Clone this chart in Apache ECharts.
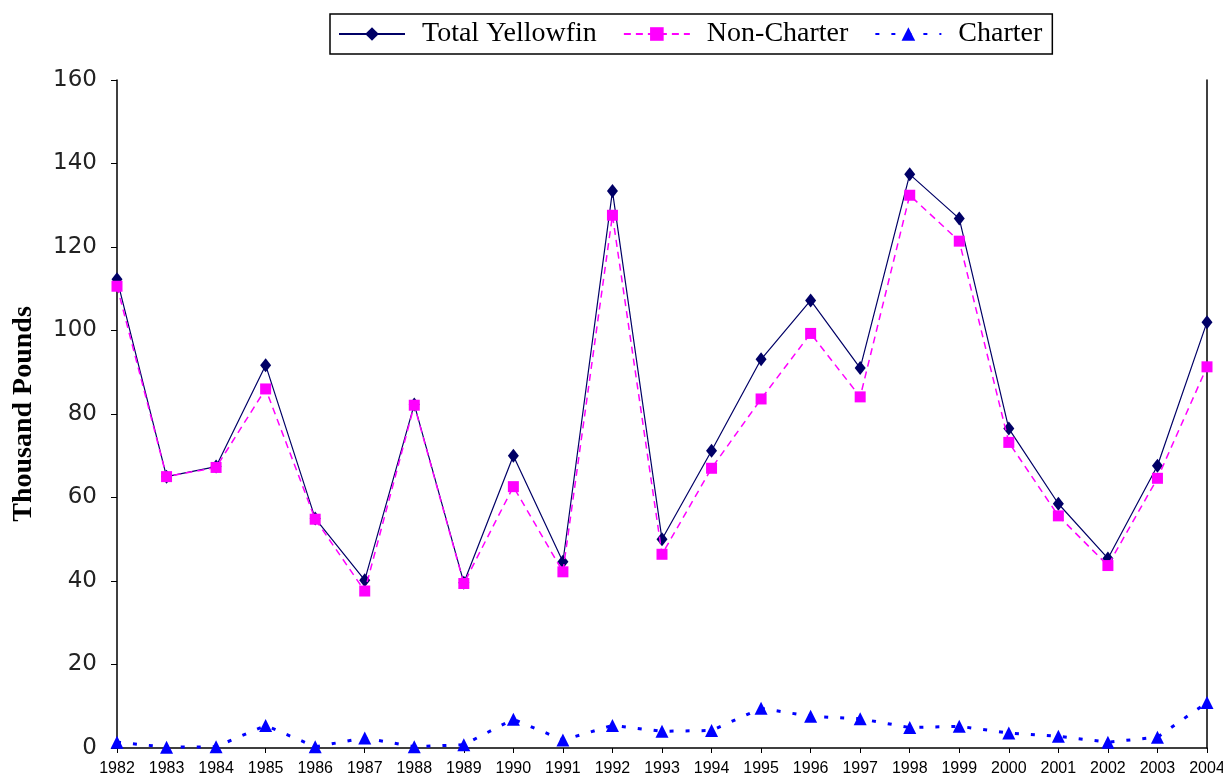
<!DOCTYPE html>
<html>
<head>
<meta charset="utf-8">
<script src="https://cdn.jsdelivr.net/npm/echarts@6/dist/echarts.min.js"></script>
<style>html,body{margin:0;padding:0;background:#fff;}#c{width:1223px;height:780px;}</style>
</head>
<body>
<div id="c"></div>
<script>
const years = ['1982','1983','1984','1985','1986','1987','1988','1989','1990','1991','1992','1993','1994','1995','1996','1997','1998','1999','2000','2001','2002','2003','2004'];
const totalYellowfin = [112.3, 65.0, 67.4, 91.7, 55.0, 40.2, 82.3, 39.6, 70.0, 44.6, 133.4, 50.0, 71.2, 93.1, 107.2, 91.0, 137.4, 126.8, 76.5, 58.5, 45.4, 67.6, 102.0];
const nonCharter = [110.6, 65.0, 67.2, 86.0, 54.8, 37.6, 82.1, 39.4, 62.6, 42.2, 127.6, 46.4, 67.0, 83.6, 99.3, 84.1, 132.4, 121.4, 73.2, 55.6, 43.7, 64.6, 91.3];
const charter = [1.4, 0.2, 0.3, 5.4, 0.3, 2.4, 0.3, 0.8, 6.9, 1.9, 5.4, 4.0, 4.2, 9.5, 7.6, 7.0, 4.9, 5.2, 3.6, 2.8, 1.4, 2.6, 10.9];
const yTicks = {min: 0, max: 160, interval: 20};

const chart = echarts.init(document.getElementById('c'));
chart.setOption({
  backgroundColor: '#ffffff',
  animation: false,
  legend: {
    left: 330, top: 14,
    padding: [6, 10, 6, 8],
    borderColor: '#000', borderWidth: 1.5,
    itemWidth: 66, itemHeight: 17, itemGap: 26,
    textStyle: {fontFamily: 'Liberation Serif', fontSize: 28, color: '#000', padding: [0, 0, 0, 12]},
    data: ['Total Yellowfin', 'Non-Charter', 'Charter']
  },
  grid: {left: 117, right: 16, top: 80, bottom: 32, containLabel: false, outerBoundsMode: 'none'},
  xAxis: {
    type: 'category', data: years, boundaryGap: false,
    axisLine: {lineStyle: {color: '#000', width: 1.5}},
    axisTick: {show: true, length: 5, interval: 0, lineStyle: {color: '#000'}},
    axisLabel: {interval: 0, fontFamily: 'Liberation Sans Narrow, Arial Narrow, sans-serif', fontSize: 16, color: '#000', margin: 13}
  },
  yAxis: [{
    type: 'value', min: yTicks.min, max: yTicks.max, interval: yTicks.interval,
    name: 'Thousand Pounds', nameLocation: 'middle', nameGap: 79, nameRotate: 90,
    nameTextStyle: {fontFamily: 'Liberation Serif', fontWeight: 'bold', fontSize: 28, color: '#000'},
    axisLine: {show: true, lineStyle: {color: '#000', width: 1.5}},
    axisTick: {show: true, length: 6, lineStyle: {color: '#000'}},
    splitLine: {show: false},
    axisLabel: {fontFamily: 'DejaVu Sans', fontSize: 23, color: '#222', margin: 20}
  }, {
    type: 'value', min: yTicks.min, max: yTicks.max, interval: yTicks.interval, position: 'right',
    axisLine: {show: true, lineStyle: {color: '#000', width: 1.5}},
    axisTick: {show: false}, axisLabel: {show: false}, splitLine: {show: false}
  }],
  series: [
    {
      name: 'Total Yellowfin', type: 'line', data: totalYellowfin,
      symbol: 'diamond', symbolSize: [11, 14],
      lineStyle: {color: '#000066', width: 1.2},
      itemStyle: {color: '#000066'}, z: 3
    },
    {
      name: 'Non-Charter', type: 'line', data: nonCharter,
      symbol: 'rect', symbolSize: 11,
      lineStyle: {color: '#ff00ff', width: 1.5, type: [7, 5]},
      itemStyle: {color: '#ff00ff'}, z: 4
    },
    {
      name: 'Charter', type: 'line', data: charter,
      symbol: 'triangle', symbolSize: [13, 13],
      lineStyle: {color: '#0000ff', width: 3, type: [4, 12]},
      itemStyle: {color: '#0000ff'}, z: 5
    }
  ]
});
</script>
</body>
</html>
